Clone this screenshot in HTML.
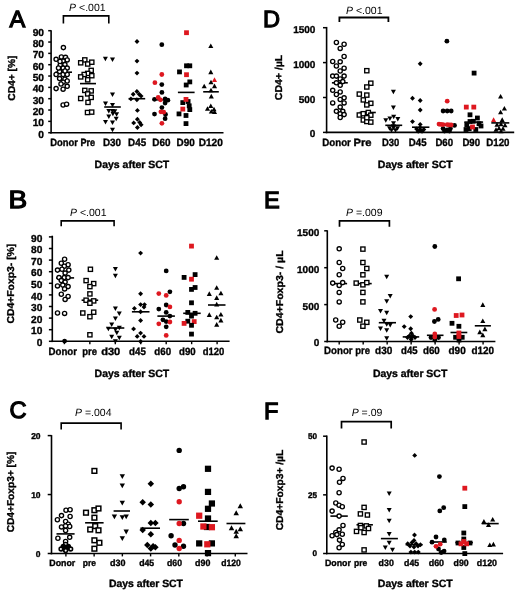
<!DOCTYPE html>
<html><head><meta charset="utf-8"><style>
html,body{margin:0;padding:0;background:#fff;}
body{width:520px;height:597px;overflow:hidden;}
svg{display:block;filter:blur(0.35px);}
text{font-family:"Liberation Sans",sans-serif;fill:#000;text-rendering:geometricPrecision;}
</style></head><body>
<svg width="520" height="597" viewBox="0 0 520 597">
<rect width="520" height="597" fill="#fff"/>
<text transform="translate(9.35,27.15) scale(1.0,1)" x="0.24" y="0" font-size="23.6" stroke="#000" stroke-width="1.25">A</text>
<text x="69.10" y="10.80" font-size="10.5" text-anchor="start"><tspan font-style="italic">P</tspan> &lt;.001</text>
<path d="M63.40 23.40V15.90H108.80V23.40" fill="none" stroke="#000" stroke-width="1.6"/>
<line x1="51.10" y1="30.30" x2="51.10" y2="133.50" stroke="#000" stroke-width="1.6"/>
<line x1="50.30" y1="132.70" x2="223.50" y2="132.70" stroke="#000" stroke-width="1.6"/>
<line x1="48.20" y1="132.70" x2="51.10" y2="132.70" stroke="#000" stroke-width="1.5"/>
<text x="44.00" y="137.70" font-size="10.2" font-weight="bold" stroke="#000" stroke-width="0.35" text-anchor="end">0</text>
<line x1="48.20" y1="121.37" x2="51.10" y2="121.37" stroke="#000" stroke-width="1.5"/>
<text x="44.00" y="126.37" font-size="10.2" font-weight="bold" stroke="#000" stroke-width="0.35" text-anchor="end">10</text>
<line x1="48.20" y1="110.03" x2="51.10" y2="110.03" stroke="#000" stroke-width="1.5"/>
<text x="44.00" y="115.03" font-size="10.2" font-weight="bold" stroke="#000" stroke-width="0.35" text-anchor="end">20</text>
<line x1="48.20" y1="98.70" x2="51.10" y2="98.70" stroke="#000" stroke-width="1.5"/>
<text x="44.00" y="103.70" font-size="10.2" font-weight="bold" stroke="#000" stroke-width="0.35" text-anchor="end">30</text>
<line x1="48.20" y1="87.37" x2="51.10" y2="87.37" stroke="#000" stroke-width="1.5"/>
<text x="44.00" y="92.37" font-size="10.2" font-weight="bold" stroke="#000" stroke-width="0.35" text-anchor="end">40</text>
<line x1="48.20" y1="76.03" x2="51.10" y2="76.03" stroke="#000" stroke-width="1.5"/>
<text x="44.00" y="81.03" font-size="10.2" font-weight="bold" stroke="#000" stroke-width="0.35" text-anchor="end">50</text>
<line x1="48.20" y1="64.70" x2="51.10" y2="64.70" stroke="#000" stroke-width="1.5"/>
<text x="44.00" y="69.70" font-size="10.2" font-weight="bold" stroke="#000" stroke-width="0.35" text-anchor="end">60</text>
<line x1="48.20" y1="53.37" x2="51.10" y2="53.37" stroke="#000" stroke-width="1.5"/>
<text x="44.00" y="58.37" font-size="10.2" font-weight="bold" stroke="#000" stroke-width="0.35" text-anchor="end">70</text>
<line x1="48.20" y1="42.04" x2="51.10" y2="42.04" stroke="#000" stroke-width="1.5"/>
<text x="44.00" y="47.04" font-size="10.2" font-weight="bold" stroke="#000" stroke-width="0.35" text-anchor="end">80</text>
<line x1="48.20" y1="30.70" x2="51.10" y2="30.70" stroke="#000" stroke-width="1.5"/>
<text x="44.00" y="35.70" font-size="10.2" font-weight="bold" stroke="#000" stroke-width="0.35" text-anchor="end">90</text>
<text transform="translate(14.70,78.10) rotate(-90)" x="0" y="0" font-size="10" font-weight="bold" stroke="#000" stroke-width="0.35" text-anchor="middle" textLength="45.2" lengthAdjust="spacingAndGlyphs">CD4+ [%]</text>
<text x="50.20" y="145.60" font-size="10.5" font-weight="bold" stroke="#000" stroke-width="0.35" text-anchor="start" textLength="27.7" lengthAdjust="spacingAndGlyphs">Donor</text>
<text x="80.50" y="145.60" font-size="10.5" font-weight="bold" stroke="#000" stroke-width="0.35" text-anchor="start" textLength="14.7" lengthAdjust="spacingAndGlyphs">Pre</text>
<text x="103.00" y="145.60" font-size="10.5" font-weight="bold" stroke="#000" stroke-width="0.35" text-anchor="start" textLength="18.1" lengthAdjust="spacingAndGlyphs">D30</text>
<text x="128.10" y="145.60" font-size="10.5" font-weight="bold" stroke="#000" stroke-width="0.35" text-anchor="start" textLength="18.0" lengthAdjust="spacingAndGlyphs">D45</text>
<text x="152.30" y="145.60" font-size="10.5" font-weight="bold" stroke="#000" stroke-width="0.35" text-anchor="start" textLength="18.2" lengthAdjust="spacingAndGlyphs">D60</text>
<text x="176.50" y="145.60" font-size="10.5" font-weight="bold" stroke="#000" stroke-width="0.35" text-anchor="start" textLength="18.2" lengthAdjust="spacingAndGlyphs">D90</text>
<text x="198.70" y="145.60" font-size="10.5" font-weight="bold" stroke="#000" stroke-width="0.35" text-anchor="start" textLength="24.1" lengthAdjust="spacingAndGlyphs">D120</text>
<text x="94.60" y="167.70" font-size="10.5" font-weight="bold" stroke="#000" stroke-width="0.35" text-anchor="start" textLength="74.7" lengthAdjust="spacingAndGlyphs">Days after SCT</text>
<line x1="55.40" y1="72.20" x2="72.00" y2="72.20" stroke="#000" stroke-width="1.6"/>
<line x1="80.00" y1="83.60" x2="96.00" y2="83.60" stroke="#000" stroke-width="1.6"/>
<line x1="104.20" y1="107.00" x2="120.80" y2="107.00" stroke="#000" stroke-width="1.6"/>
<line x1="128.60" y1="98.70" x2="145.20" y2="98.70" stroke="#000" stroke-width="1.6"/>
<line x1="152.60" y1="99.80" x2="169.70" y2="99.80" stroke="#000" stroke-width="1.6"/>
<line x1="177.90" y1="92.40" x2="194.60" y2="92.40" stroke="#000" stroke-width="1.6"/>
<line x1="203.20" y1="91.80" x2="218.80" y2="91.80" stroke="#000" stroke-width="1.6"/>
<text transform="translate(10.65,208.15) scale(1.12,1)" x="-1.88" y="0" font-size="25" stroke="#000" stroke-width="1.25">B</text>
<text x="70.00" y="216.20" font-size="10.5" text-anchor="start"><tspan font-style="italic">P</tspan> &lt;.001</text>
<path d="M61.20 226.20V220.90H114.10V226.20" fill="none" stroke="#000" stroke-width="1.6"/>
<line x1="52.30" y1="235.70" x2="52.30" y2="342.10" stroke="#000" stroke-width="1.6"/>
<line x1="51.50" y1="341.30" x2="229.60" y2="341.30" stroke="#000" stroke-width="1.6"/>
<line x1="48.90" y1="341.30" x2="52.30" y2="341.30" stroke="#000" stroke-width="1.5"/>
<text x="42.40" y="346.05" font-size="10.2" font-weight="bold" stroke="#000" stroke-width="0.35" text-anchor="end">0</text>
<line x1="48.90" y1="329.70" x2="52.30" y2="329.70" stroke="#000" stroke-width="1.5"/>
<text x="42.40" y="334.45" font-size="10.2" font-weight="bold" stroke="#000" stroke-width="0.35" text-anchor="end">10</text>
<line x1="48.90" y1="318.10" x2="52.30" y2="318.10" stroke="#000" stroke-width="1.5"/>
<text x="42.40" y="322.85" font-size="10.2" font-weight="bold" stroke="#000" stroke-width="0.35" text-anchor="end">20</text>
<line x1="48.90" y1="306.50" x2="52.30" y2="306.50" stroke="#000" stroke-width="1.5"/>
<text x="42.40" y="311.25" font-size="10.2" font-weight="bold" stroke="#000" stroke-width="0.35" text-anchor="end">30</text>
<line x1="48.90" y1="294.90" x2="52.30" y2="294.90" stroke="#000" stroke-width="1.5"/>
<text x="42.40" y="299.65" font-size="10.2" font-weight="bold" stroke="#000" stroke-width="0.35" text-anchor="end">40</text>
<line x1="48.90" y1="283.30" x2="52.30" y2="283.30" stroke="#000" stroke-width="1.5"/>
<text x="42.40" y="288.05" font-size="10.2" font-weight="bold" stroke="#000" stroke-width="0.35" text-anchor="end">50</text>
<line x1="48.90" y1="271.70" x2="52.30" y2="271.70" stroke="#000" stroke-width="1.5"/>
<text x="42.40" y="276.45" font-size="10.2" font-weight="bold" stroke="#000" stroke-width="0.35" text-anchor="end">60</text>
<line x1="48.90" y1="260.10" x2="52.30" y2="260.10" stroke="#000" stroke-width="1.5"/>
<text x="42.40" y="264.85" font-size="10.2" font-weight="bold" stroke="#000" stroke-width="0.35" text-anchor="end">70</text>
<line x1="48.90" y1="248.50" x2="52.30" y2="248.50" stroke="#000" stroke-width="1.5"/>
<text x="42.40" y="253.25" font-size="10.2" font-weight="bold" stroke="#000" stroke-width="0.35" text-anchor="end">80</text>
<line x1="48.90" y1="236.90" x2="52.30" y2="236.90" stroke="#000" stroke-width="1.5"/>
<text x="42.40" y="241.65" font-size="10.2" font-weight="bold" stroke="#000" stroke-width="0.35" text-anchor="end">90</text>
<line x1="64.40" y1="341.30" x2="64.40" y2="344.20" stroke="#000" stroke-width="1.4"/>
<line x1="89.85" y1="341.30" x2="89.85" y2="344.20" stroke="#000" stroke-width="1.4"/>
<line x1="115.30" y1="341.30" x2="115.30" y2="344.20" stroke="#000" stroke-width="1.4"/>
<line x1="140.75" y1="341.30" x2="140.75" y2="344.20" stroke="#000" stroke-width="1.4"/>
<line x1="166.20" y1="341.30" x2="166.20" y2="344.20" stroke="#000" stroke-width="1.4"/>
<line x1="191.65" y1="341.30" x2="191.65" y2="344.20" stroke="#000" stroke-width="1.4"/>
<line x1="217.10" y1="341.30" x2="217.10" y2="344.20" stroke="#000" stroke-width="1.4"/>
<text transform="translate(14.30,283.65) rotate(-90)" x="0" y="0" font-size="10" font-weight="bold" stroke="#000" stroke-width="0.35" text-anchor="middle" textLength="79.9" lengthAdjust="spacingAndGlyphs">CD4+Foxp3- [%]</text>
<text x="48.50" y="354.50" font-size="10.5" font-weight="bold" stroke="#000" stroke-width="0.35" text-anchor="start" textLength="28.5" lengthAdjust="spacingAndGlyphs">Donor</text>
<text x="82.20" y="354.50" font-size="10.5" font-weight="bold" stroke="#000" stroke-width="0.35" text-anchor="start" textLength="14.7" lengthAdjust="spacingAndGlyphs">pre</text>
<text x="101.20" y="354.50" font-size="10.5" font-weight="bold" stroke="#000" stroke-width="0.35" text-anchor="start" textLength="19.1" lengthAdjust="spacingAndGlyphs">d30</text>
<text x="129.00" y="354.50" font-size="10.5" font-weight="bold" stroke="#000" stroke-width="0.35" text-anchor="start" textLength="16.8" lengthAdjust="spacingAndGlyphs">d45</text>
<text x="154.30" y="354.50" font-size="10.5" font-weight="bold" stroke="#000" stroke-width="0.35" text-anchor="start" textLength="16.8" lengthAdjust="spacingAndGlyphs">d60</text>
<text x="179.10" y="354.50" font-size="10.5" font-weight="bold" stroke="#000" stroke-width="0.35" text-anchor="start" textLength="16.6" lengthAdjust="spacingAndGlyphs">d90</text>
<text x="202.80" y="354.50" font-size="10.5" font-weight="bold" stroke="#000" stroke-width="0.35" text-anchor="start" textLength="21.6" lengthAdjust="spacingAndGlyphs">d120</text>
<text x="94.60" y="377.20" font-size="10.5" font-weight="bold" stroke="#000" stroke-width="0.35" text-anchor="start" textLength="74.7" lengthAdjust="spacingAndGlyphs">Days after SCT</text>
<line x1="56.00" y1="277.90" x2="74.10" y2="277.90" stroke="#000" stroke-width="1.6"/>
<line x1="81.60" y1="300.20" x2="98.20" y2="300.20" stroke="#000" stroke-width="1.6"/>
<line x1="106.70" y1="328.00" x2="124.30" y2="328.00" stroke="#000" stroke-width="1.6"/>
<line x1="131.90" y1="311.80" x2="149.50" y2="311.80" stroke="#000" stroke-width="1.6"/>
<line x1="157.40" y1="316.10" x2="174.90" y2="316.10" stroke="#000" stroke-width="1.6"/>
<line x1="183.20" y1="313.30" x2="200.70" y2="313.30" stroke="#000" stroke-width="1.6"/>
<line x1="208.00" y1="305.00" x2="225.50" y2="305.00" stroke="#000" stroke-width="1.6"/>
<text transform="translate(10.55,418.25) scale(1.0,1)" x="-1.18" y="0" font-size="23.6" stroke="#000" stroke-width="1.25">C</text>
<text x="75.00" y="415.50" font-size="10.5" text-anchor="start"><tspan font-style="italic">P</tspan> =.004</text>
<path d="M61.20 429.60V423.10H121.10V429.60" fill="none" stroke="#000" stroke-width="1.6"/>
<line x1="51.50" y1="435.10" x2="51.50" y2="554.30" stroke="#000" stroke-width="1.6"/>
<line x1="50.70" y1="553.50" x2="247.50" y2="553.50" stroke="#000" stroke-width="1.6"/>
<line x1="47.70" y1="553.50" x2="51.50" y2="553.50" stroke="#000" stroke-width="1.5"/>
<text x="40.60" y="556.50" font-size="8.5" font-weight="bold" stroke="#000" stroke-width="0.35" text-anchor="end">0</text>
<line x1="47.70" y1="494.55" x2="51.50" y2="494.55" stroke="#000" stroke-width="1.5"/>
<text x="40.60" y="497.55" font-size="8.5" font-weight="bold" stroke="#000" stroke-width="0.35" text-anchor="end">10</text>
<line x1="47.70" y1="435.60" x2="51.50" y2="435.60" stroke="#000" stroke-width="1.5"/>
<text x="40.60" y="438.60" font-size="8.5" font-weight="bold" stroke="#000" stroke-width="0.35" text-anchor="end">20</text>
<line x1="65.90" y1="553.50" x2="65.90" y2="556.40" stroke="#000" stroke-width="1.4"/>
<line x1="94.13" y1="553.50" x2="94.13" y2="556.40" stroke="#000" stroke-width="1.4"/>
<line x1="122.36" y1="553.50" x2="122.36" y2="556.40" stroke="#000" stroke-width="1.4"/>
<line x1="150.59" y1="553.50" x2="150.59" y2="556.40" stroke="#000" stroke-width="1.4"/>
<line x1="178.82" y1="553.50" x2="178.82" y2="556.40" stroke="#000" stroke-width="1.4"/>
<line x1="207.05" y1="553.50" x2="207.05" y2="556.40" stroke="#000" stroke-width="1.4"/>
<line x1="235.28" y1="553.50" x2="235.28" y2="556.40" stroke="#000" stroke-width="1.4"/>
<text transform="translate(14.30,492.00) rotate(-90)" x="0" y="0" font-size="10" font-weight="bold" stroke="#000" stroke-width="0.35" text-anchor="middle" textLength="80.6" lengthAdjust="spacingAndGlyphs">CD4+Foxp3+ [%]</text>
<text x="49.30" y="565.90" font-size="9.2" font-weight="bold" stroke="#000" stroke-width="0.35" text-anchor="start" textLength="26.0" lengthAdjust="spacingAndGlyphs">Donor</text>
<text x="82.70" y="565.90" font-size="9.2" font-weight="bold" stroke="#000" stroke-width="0.35" text-anchor="start" textLength="13.3" lengthAdjust="spacingAndGlyphs">pre</text>
<text x="109.90" y="565.90" font-size="9.2" font-weight="bold" stroke="#000" stroke-width="0.35" text-anchor="start" textLength="15.5" lengthAdjust="spacingAndGlyphs">d30</text>
<text x="139.20" y="565.90" font-size="9.2" font-weight="bold" stroke="#000" stroke-width="0.35" text-anchor="start" textLength="15.0" lengthAdjust="spacingAndGlyphs">d45</text>
<text x="167.00" y="565.90" font-size="9.2" font-weight="bold" stroke="#000" stroke-width="0.35" text-anchor="start" textLength="15.0" lengthAdjust="spacingAndGlyphs">d60</text>
<text x="195.10" y="565.90" font-size="9.2" font-weight="bold" stroke="#000" stroke-width="0.35" text-anchor="start" textLength="15.3" lengthAdjust="spacingAndGlyphs">d90</text>
<text x="221.20" y="565.90" font-size="9.2" font-weight="bold" stroke="#000" stroke-width="0.35" text-anchor="start" textLength="19.6" lengthAdjust="spacingAndGlyphs">d120</text>
<text x="108.90" y="587.20" font-size="10.5" font-weight="bold" stroke="#000" stroke-width="0.35" text-anchor="start" textLength="74.1" lengthAdjust="spacingAndGlyphs">Days after SCT</text>
<line x1="56.50" y1="533.90" x2="74.60" y2="533.90" stroke="#000" stroke-width="1.6"/>
<line x1="85.10" y1="522.80" x2="103.60" y2="522.80" stroke="#000" stroke-width="1.6"/>
<line x1="113.60" y1="511.00" x2="130.00" y2="511.00" stroke="#000" stroke-width="1.6"/>
<line x1="140.40" y1="528.20" x2="160.00" y2="528.20" stroke="#000" stroke-width="1.6"/>
<line x1="169.20" y1="519.60" x2="188.80" y2="519.60" stroke="#000" stroke-width="1.6"/>
<line x1="198.00" y1="521.20" x2="217.70" y2="521.20" stroke="#000" stroke-width="1.6"/>
<line x1="226.50" y1="523.50" x2="245.40" y2="523.50" stroke="#000" stroke-width="1.6"/>
<text transform="translate(264.75,27.25) scale(1.0,1)" x="-1.89" y="0" font-size="23.6" stroke="#000" stroke-width="1.25">D</text>
<text x="346.00" y="13.80" font-size="10.5" text-anchor="start"><tspan font-style="italic">P</tspan> &lt;.001</text>
<path d="M339.40 22.10V17.50H388.40V22.10" fill="none" stroke="#000" stroke-width="1.8"/>
<line x1="326.60" y1="26.90" x2="326.60" y2="133.20" stroke="#000" stroke-width="1.6"/>
<line x1="325.80" y1="132.40" x2="514.20" y2="132.40" stroke="#000" stroke-width="1.6"/>
<line x1="323.00" y1="132.40" x2="326.60" y2="132.40" stroke="#000" stroke-width="1.5"/>
<text x="315.40" y="137.40" font-size="10" font-weight="bold" stroke="#000" stroke-width="0.35" text-anchor="end">0</text>
<line x1="323.00" y1="97.50" x2="326.60" y2="97.50" stroke="#000" stroke-width="1.5"/>
<text x="315.40" y="102.50" font-size="10" font-weight="bold" stroke="#000" stroke-width="0.35" text-anchor="end">500</text>
<line x1="323.00" y1="62.60" x2="326.60" y2="62.60" stroke="#000" stroke-width="1.5"/>
<text x="315.40" y="67.60" font-size="10" font-weight="bold" stroke="#000" stroke-width="0.35" text-anchor="end">1000</text>
<line x1="323.00" y1="27.70" x2="326.60" y2="27.70" stroke="#000" stroke-width="1.5"/>
<text x="315.40" y="32.70" font-size="10" font-weight="bold" stroke="#000" stroke-width="0.35" text-anchor="end">1500</text>
<text transform="translate(282.20,77.45) rotate(-90)" x="0" y="0" font-size="10" font-weight="bold" stroke="#000" stroke-width="0.35" text-anchor="middle" textLength="45.5" lengthAdjust="spacingAndGlyphs">CD4+ /µL</text>
<text x="322.30" y="145.60" font-size="10.5" font-weight="bold" stroke="#000" stroke-width="0.35" text-anchor="start" textLength="28.6" lengthAdjust="spacingAndGlyphs">Donor</text>
<text x="353.50" y="145.60" font-size="10.5" font-weight="bold" stroke="#000" stroke-width="0.35" text-anchor="start" textLength="18.1" lengthAdjust="spacingAndGlyphs">Pre</text>
<text x="382.00" y="145.60" font-size="10.5" font-weight="bold" stroke="#000" stroke-width="0.35" text-anchor="start" textLength="17.3" lengthAdjust="spacingAndGlyphs">D30</text>
<text x="408.80" y="145.60" font-size="10.5" font-weight="bold" stroke="#000" stroke-width="0.35" text-anchor="start" textLength="17.7" lengthAdjust="spacingAndGlyphs">D45</text>
<text x="435.40" y="145.60" font-size="10.5" font-weight="bold" stroke="#000" stroke-width="0.35" text-anchor="start" textLength="17.7" lengthAdjust="spacingAndGlyphs">D60</text>
<text x="462.40" y="145.60" font-size="10.5" font-weight="bold" stroke="#000" stroke-width="0.35" text-anchor="start" textLength="17.7" lengthAdjust="spacingAndGlyphs">D90</text>
<text x="486.30" y="145.60" font-size="10.5" font-weight="bold" stroke="#000" stroke-width="0.35" text-anchor="start" textLength="23.2" lengthAdjust="spacingAndGlyphs">D120</text>
<text x="377.80" y="167.70" font-size="10.5" font-weight="bold" stroke="#000" stroke-width="0.35" text-anchor="start" textLength="74.9" lengthAdjust="spacingAndGlyphs">Days after SCT</text>
<line x1="331.90" y1="82.80" x2="347.80" y2="82.80" stroke="#000" stroke-width="1.6"/>
<line x1="359.50" y1="112.50" x2="375.80" y2="112.50" stroke="#000" stroke-width="1.6"/>
<line x1="385.30" y1="125.30" x2="402.20" y2="125.30" stroke="#000" stroke-width="1.6"/>
<line x1="412.00" y1="127.20" x2="429.40" y2="127.20" stroke="#000" stroke-width="1.6"/>
<line x1="437.70" y1="125.30" x2="456.10" y2="125.30" stroke="#000" stroke-width="1.6"/>
<line x1="464.30" y1="122.10" x2="483.10" y2="122.10" stroke="#000" stroke-width="1.6"/>
<line x1="491.30" y1="122.90" x2="509.30" y2="122.90" stroke="#000" stroke-width="1.6"/>
<text transform="translate(265.85,208.25) scale(1.0,1)" x="-1.89" y="0" font-size="23.6" stroke="#000" stroke-width="1.25">E</text>
<text x="346.00" y="215.60" font-size="10.5" text-anchor="start"><tspan font-style="italic">P</tspan> =.009</text>
<path d="M339.50 226.80V220.80H389.40V226.80" fill="none" stroke="#000" stroke-width="1.7"/>
<line x1="327.30" y1="230.30" x2="327.30" y2="342.30" stroke="#000" stroke-width="1.6"/>
<line x1="326.50" y1="341.50" x2="495.40" y2="341.50" stroke="#000" stroke-width="1.6"/>
<line x1="324.20" y1="341.50" x2="327.30" y2="341.50" stroke="#000" stroke-width="1.5"/>
<text x="319.30" y="346.40" font-size="10" font-weight="bold" stroke="#000" stroke-width="0.35" text-anchor="end">0</text>
<line x1="324.20" y1="304.60" x2="327.30" y2="304.60" stroke="#000" stroke-width="1.5"/>
<text x="319.30" y="309.50" font-size="10" font-weight="bold" stroke="#000" stroke-width="0.35" text-anchor="end">500</text>
<line x1="324.20" y1="267.70" x2="327.30" y2="267.70" stroke="#000" stroke-width="1.5"/>
<text x="319.30" y="272.60" font-size="10" font-weight="bold" stroke="#000" stroke-width="0.35" text-anchor="end">1000</text>
<line x1="324.20" y1="230.80" x2="327.30" y2="230.80" stroke="#000" stroke-width="1.5"/>
<text x="319.30" y="235.70" font-size="10" font-weight="bold" stroke="#000" stroke-width="0.35" text-anchor="end">1500</text>
<line x1="339.20" y1="341.50" x2="339.20" y2="344.40" stroke="#000" stroke-width="1.4"/>
<line x1="363.18" y1="341.50" x2="363.18" y2="344.40" stroke="#000" stroke-width="1.4"/>
<line x1="387.16" y1="341.50" x2="387.16" y2="344.40" stroke="#000" stroke-width="1.4"/>
<line x1="411.14" y1="341.50" x2="411.14" y2="344.40" stroke="#000" stroke-width="1.4"/>
<line x1="435.12" y1="341.50" x2="435.12" y2="344.40" stroke="#000" stroke-width="1.4"/>
<line x1="459.10" y1="341.50" x2="459.10" y2="344.40" stroke="#000" stroke-width="1.4"/>
<line x1="483.08" y1="341.50" x2="483.08" y2="344.40" stroke="#000" stroke-width="1.4"/>
<text transform="translate(283.30,292.00) rotate(-90)" x="0" y="0" font-size="10" font-weight="bold" stroke="#000" stroke-width="0.35" text-anchor="middle" textLength="83.2" lengthAdjust="spacingAndGlyphs">CD4+Foxp3- / µL</text>
<text x="324.10" y="354.20" font-size="10.5" font-weight="bold" stroke="#000" stroke-width="0.35" text-anchor="start" textLength="28.5" lengthAdjust="spacingAndGlyphs">Donor</text>
<text x="355.20" y="354.20" font-size="10.5" font-weight="bold" stroke="#000" stroke-width="0.35" text-anchor="start" textLength="14.7" lengthAdjust="spacingAndGlyphs">pre</text>
<text x="375.10" y="354.20" font-size="10.5" font-weight="bold" stroke="#000" stroke-width="0.35" text-anchor="start" textLength="17.3" lengthAdjust="spacingAndGlyphs">d30</text>
<text x="401.10" y="354.20" font-size="10.5" font-weight="bold" stroke="#000" stroke-width="0.35" text-anchor="start" textLength="16.5" lengthAdjust="spacingAndGlyphs">d45</text>
<text x="422.90" y="354.20" font-size="10.5" font-weight="bold" stroke="#000" stroke-width="0.35" text-anchor="start" textLength="16.9" lengthAdjust="spacingAndGlyphs">d60</text>
<text x="448.50" y="354.20" font-size="10.5" font-weight="bold" stroke="#000" stroke-width="0.35" text-anchor="start" textLength="17.2" lengthAdjust="spacingAndGlyphs">d90</text>
<text x="471.40" y="354.20" font-size="10.5" font-weight="bold" stroke="#000" stroke-width="0.35" text-anchor="start" textLength="22.6" lengthAdjust="spacingAndGlyphs">d120</text>
<text x="372.90" y="377.40" font-size="10.5" font-weight="bold" stroke="#000" stroke-width="0.35" text-anchor="start" textLength="74.4" lengthAdjust="spacingAndGlyphs">Days after SCT</text>
<line x1="331.30" y1="283.60" x2="347.10" y2="283.60" stroke="#000" stroke-width="1.6"/>
<line x1="354.10" y1="283.60" x2="371.70" y2="283.60" stroke="#000" stroke-width="1.6"/>
<line x1="378.80" y1="322.70" x2="396.00" y2="322.70" stroke="#000" stroke-width="1.6"/>
<line x1="402.70" y1="336.90" x2="419.20" y2="336.90" stroke="#000" stroke-width="1.6"/>
<line x1="426.90" y1="335.30" x2="443.50" y2="335.30" stroke="#000" stroke-width="1.6"/>
<line x1="450.50" y1="332.50" x2="467.30" y2="332.50" stroke="#000" stroke-width="1.6"/>
<line x1="474.80" y1="325.80" x2="490.90" y2="325.80" stroke="#000" stroke-width="1.6"/>
<text transform="translate(265.85,419.05) scale(1.0,1)" x="-1.89" y="0" font-size="23.6" stroke="#000" stroke-width="1.25">F</text>
<text x="351.70" y="415.90" font-size="10.5" text-anchor="start"><tspan font-style="italic">P</tspan> =.09</text>
<path d="M341.50 428.60V421.60H391.20V428.60" fill="none" stroke="#000" stroke-width="1.7"/>
<line x1="326.80" y1="435.40" x2="326.80" y2="554.30" stroke="#000" stroke-width="1.6"/>
<line x1="326.00" y1="553.50" x2="503.10" y2="553.50" stroke="#000" stroke-width="1.6"/>
<line x1="323.10" y1="553.50" x2="326.80" y2="553.50" stroke="#000" stroke-width="1.5"/>
<text x="317.00" y="556.40" font-size="8.2" font-weight="bold" stroke="#000" stroke-width="0.35" text-anchor="end">0</text>
<line x1="323.10" y1="494.85" x2="326.80" y2="494.85" stroke="#000" stroke-width="1.5"/>
<text x="317.00" y="497.75" font-size="8.2" font-weight="bold" stroke="#000" stroke-width="0.35" text-anchor="end">25</text>
<line x1="323.10" y1="436.20" x2="326.80" y2="436.20" stroke="#000" stroke-width="1.5"/>
<text x="317.00" y="439.10" font-size="8.2" font-weight="bold" stroke="#000" stroke-width="0.35" text-anchor="end">50</text>
<text transform="translate(282.50,490.00) rotate(-90)" x="0" y="0" font-size="10" font-weight="bold" stroke="#000" stroke-width="0.35" text-anchor="middle" textLength="80.6" lengthAdjust="spacingAndGlyphs">CD4+Foxp3+ /µL</text>
<text x="324.90" y="565.60" font-size="9.2" font-weight="bold" stroke="#000" stroke-width="0.35" text-anchor="start" textLength="26.0" lengthAdjust="spacingAndGlyphs">Donor</text>
<text x="354.00" y="565.60" font-size="9.2" font-weight="bold" stroke="#000" stroke-width="0.35" text-anchor="start" textLength="13.3" lengthAdjust="spacingAndGlyphs">pre</text>
<text x="378.60" y="565.60" font-size="9.2" font-weight="bold" stroke="#000" stroke-width="0.35" text-anchor="start" textLength="15.2" lengthAdjust="spacingAndGlyphs">d30</text>
<text x="404.10" y="565.60" font-size="9.2" font-weight="bold" stroke="#000" stroke-width="0.35" text-anchor="start" textLength="15.1" lengthAdjust="spacingAndGlyphs">d45</text>
<text x="428.70" y="565.60" font-size="9.2" font-weight="bold" stroke="#000" stroke-width="0.35" text-anchor="start" textLength="15.4" lengthAdjust="spacingAndGlyphs">d60</text>
<text x="453.60" y="565.60" font-size="9.2" font-weight="bold" stroke="#000" stroke-width="0.35" text-anchor="start" textLength="15.1" lengthAdjust="spacingAndGlyphs">d90</text>
<text x="476.80" y="565.60" font-size="9.2" font-weight="bold" stroke="#000" stroke-width="0.35" text-anchor="start" textLength="20.2" lengthAdjust="spacingAndGlyphs">d120</text>
<text x="377.80" y="587.20" font-size="10.5" font-weight="bold" stroke="#000" stroke-width="0.35" text-anchor="start" textLength="74.9" lengthAdjust="spacingAndGlyphs">Days after SCT</text>
<line x1="330.40" y1="516.10" x2="347.80" y2="516.10" stroke="#000" stroke-width="1.6"/>
<line x1="356.50" y1="524.80" x2="372.90" y2="524.80" stroke="#000" stroke-width="1.6"/>
<line x1="380.90" y1="538.60" x2="397.90" y2="538.60" stroke="#000" stroke-width="1.6"/>
<line x1="405.60" y1="544.70" x2="422.50" y2="544.70" stroke="#000" stroke-width="1.6"/>
<line x1="430.50" y1="542.00" x2="446.80" y2="542.00" stroke="#000" stroke-width="1.6"/>
<line x1="455.30" y1="542.60" x2="472.90" y2="542.60" stroke="#000" stroke-width="1.6"/>
<line x1="481.70" y1="523.60" x2="498.70" y2="523.60" stroke="#000" stroke-width="1.6"/>
<circle cx="63.40" cy="47.60" r="2.10" fill="#fff" stroke="#000" stroke-width="1.35"/>
<circle cx="56.10" cy="59.30" r="2.10" fill="#fff" stroke="#000" stroke-width="1.35"/>
<circle cx="61.40" cy="57.00" r="2.10" fill="#fff" stroke="#000" stroke-width="1.35"/>
<circle cx="65.50" cy="57.30" r="2.10" fill="#fff" stroke="#000" stroke-width="1.35"/>
<circle cx="67.20" cy="59.90" r="2.10" fill="#fff" stroke="#000" stroke-width="1.35"/>
<circle cx="63.10" cy="61.10" r="2.10" fill="#fff" stroke="#000" stroke-width="1.35"/>
<circle cx="60.20" cy="65.20" r="2.10" fill="#fff" stroke="#000" stroke-width="1.35"/>
<circle cx="64.90" cy="64.60" r="2.10" fill="#fff" stroke="#000" stroke-width="1.35"/>
<circle cx="63.10" cy="68.10" r="2.10" fill="#fff" stroke="#000" stroke-width="1.35"/>
<circle cx="67.20" cy="68.10" r="2.10" fill="#fff" stroke="#000" stroke-width="1.35"/>
<circle cx="59.60" cy="71.60" r="2.10" fill="#fff" stroke="#000" stroke-width="1.35"/>
<circle cx="56.10" cy="74.50" r="2.10" fill="#fff" stroke="#000" stroke-width="1.35"/>
<circle cx="63.10" cy="74.50" r="2.10" fill="#fff" stroke="#000" stroke-width="1.35"/>
<circle cx="67.20" cy="74.50" r="2.10" fill="#fff" stroke="#000" stroke-width="1.35"/>
<circle cx="59.60" cy="78.60" r="2.10" fill="#fff" stroke="#000" stroke-width="1.35"/>
<circle cx="64.90" cy="79.20" r="2.10" fill="#fff" stroke="#000" stroke-width="1.35"/>
<circle cx="67.20" cy="81.00" r="2.10" fill="#fff" stroke="#000" stroke-width="1.35"/>
<circle cx="63.10" cy="82.20" r="2.10" fill="#fff" stroke="#000" stroke-width="1.35"/>
<circle cx="67.20" cy="86.30" r="2.10" fill="#fff" stroke="#000" stroke-width="1.35"/>
<circle cx="56.10" cy="88.60" r="2.10" fill="#fff" stroke="#000" stroke-width="1.35"/>
<circle cx="63.10" cy="89.20" r="2.10" fill="#fff" stroke="#000" stroke-width="1.35"/>
<circle cx="63.10" cy="105.00" r="2.10" fill="#fff" stroke="#000" stroke-width="1.35"/>
<circle cx="66.60" cy="104.20" r="2.10" fill="#fff" stroke="#000" stroke-width="1.35"/>
<circle cx="60.00" cy="61.50" r="2.10" fill="#fff" stroke="#000" stroke-width="1.35"/>
<circle cx="58.50" cy="68.00" r="2.10" fill="#fff" stroke="#000" stroke-width="1.35"/>
<circle cx="61.00" cy="84.00" r="2.10" fill="#fff" stroke="#000" stroke-width="1.35"/>
<circle cx="65.00" cy="71.00" r="2.10" fill="#fff" stroke="#000" stroke-width="1.35"/>
<rect x="82.70" y="57.80" width="4.20" height="4.20" fill="#fff" stroke="#000" stroke-width="1.35"/>
<rect x="78.60" y="60.70" width="4.20" height="4.20" fill="#fff" stroke="#000" stroke-width="1.35"/>
<rect x="85.60" y="61.90" width="4.20" height="4.20" fill="#fff" stroke="#000" stroke-width="1.35"/>
<rect x="89.70" y="60.10" width="4.20" height="4.20" fill="#fff" stroke="#000" stroke-width="1.35"/>
<rect x="89.10" y="68.30" width="4.20" height="4.20" fill="#fff" stroke="#000" stroke-width="1.35"/>
<rect x="85.60" y="71.30" width="4.20" height="4.20" fill="#fff" stroke="#000" stroke-width="1.35"/>
<rect x="82.10" y="72.40" width="4.20" height="4.20" fill="#fff" stroke="#000" stroke-width="1.35"/>
<rect x="78.60" y="74.80" width="4.20" height="4.20" fill="#fff" stroke="#000" stroke-width="1.35"/>
<rect x="89.70" y="73.60" width="4.20" height="4.20" fill="#fff" stroke="#000" stroke-width="1.35"/>
<rect x="85.60" y="77.70" width="4.20" height="4.20" fill="#fff" stroke="#000" stroke-width="1.35"/>
<rect x="82.70" y="88.30" width="4.20" height="4.20" fill="#fff" stroke="#000" stroke-width="1.35"/>
<rect x="89.10" y="88.80" width="4.20" height="4.20" fill="#fff" stroke="#000" stroke-width="1.35"/>
<rect x="85.60" y="91.80" width="4.20" height="4.20" fill="#fff" stroke="#000" stroke-width="1.35"/>
<rect x="89.10" y="95.30" width="4.20" height="4.20" fill="#fff" stroke="#000" stroke-width="1.35"/>
<rect x="78.60" y="96.40" width="4.20" height="4.20" fill="#fff" stroke="#000" stroke-width="1.35"/>
<rect x="85.90" y="100.30" width="4.20" height="4.20" fill="#fff" stroke="#000" stroke-width="1.35"/>
<rect x="85.40" y="110.40" width="4.20" height="4.20" fill="#fff" stroke="#000" stroke-width="1.35"/>
<rect x="89.60" y="110.00" width="4.20" height="4.20" fill="#fff" stroke="#000" stroke-width="1.35"/>
<path d="M102.90 56.65H107.90L105.40 61.15Z" fill="#000"/>
<path d="M110.00 57.55H115.00L112.50 62.05Z" fill="#000"/>
<path d="M110.00 92.55H115.00L112.50 97.05Z" fill="#000"/>
<path d="M103.00 101.55H108.00L105.50 106.05Z" fill="#000"/>
<path d="M110.00 102.95H115.00L112.50 107.45Z" fill="#000"/>
<path d="M106.30 108.95H111.30L108.80 113.45Z" fill="#000"/>
<path d="M110.00 108.95H115.00L112.50 113.45Z" fill="#000"/>
<path d="M112.30 109.35H117.30L114.80 113.85Z" fill="#000"/>
<path d="M110.40 111.75H115.40L112.90 116.25Z" fill="#000"/>
<path d="M114.10 112.15H119.10L116.60 116.65Z" fill="#000"/>
<path d="M106.30 114.45H111.30L108.80 118.95Z" fill="#000"/>
<path d="M113.70 116.75H118.70L116.20 121.25Z" fill="#000"/>
<path d="M103.00 119.95H108.00L105.50 124.45Z" fill="#000"/>
<path d="M110.00 120.45H115.00L112.50 124.95Z" fill="#000"/>
<path d="M110.00 127.85H115.00L112.50 132.35Z" fill="#000"/>
<path d="M137.00 39.05L139.45 41.50L137.00 43.95L134.55 41.50Z" fill="#000"/>
<path d="M137.00 58.65L139.45 61.10L137.00 63.55L134.55 61.10Z" fill="#000"/>
<path d="M137.00 70.65L139.45 73.10L137.00 75.55L134.55 73.10Z" fill="#000"/>
<path d="M136.90 89.05L139.35 91.50L136.90 93.95L134.45 91.50Z" fill="#000"/>
<path d="M133.20 91.75L135.65 94.20L133.20 96.65L130.75 94.20Z" fill="#000"/>
<path d="M139.20 91.75L141.65 94.20L139.20 96.65L136.75 94.20Z" fill="#000"/>
<path d="M141.10 93.65L143.55 96.10L141.10 98.55L138.65 96.10Z" fill="#000"/>
<path d="M130.90 96.45L133.35 98.90L130.90 101.35L128.45 98.90Z" fill="#000"/>
<path d="M136.90 97.35L139.35 99.80L136.90 102.25L134.45 99.80Z" fill="#000"/>
<path d="M137.40 107.95L139.85 110.40L137.40 112.85L134.95 110.40Z" fill="#000"/>
<path d="M137.40 116.75L139.85 119.20L137.40 121.65L134.95 119.20Z" fill="#000"/>
<path d="M133.70 120.45L136.15 122.90L133.70 125.35L131.25 122.90Z" fill="#000"/>
<path d="M139.70 119.95L142.15 122.40L139.70 124.85L137.25 122.40Z" fill="#000"/>
<path d="M141.10 122.25L143.55 124.70L141.10 127.15L138.65 124.70Z" fill="#000"/>
<path d="M137.40 125.05L139.85 127.50L137.40 129.95L134.95 127.50Z" fill="#000"/>
<circle cx="161.80" cy="44.70" r="2.40" fill="#000"/>
<circle cx="161.80" cy="74.50" r="2.40" fill="#de1820"/>
<circle cx="154.90" cy="82.70" r="2.40" fill="#de1820"/>
<circle cx="161.80" cy="84.60" r="2.40" fill="#000"/>
<circle cx="161.90" cy="92.40" r="2.40" fill="#000"/>
<circle cx="154.50" cy="99.30" r="2.40" fill="#000"/>
<circle cx="165.10" cy="98.90" r="2.40" fill="#000"/>
<circle cx="167.90" cy="100.20" r="2.40" fill="#000"/>
<circle cx="165.10" cy="103.00" r="2.40" fill="#000"/>
<circle cx="158.20" cy="97.50" r="2.40" fill="#de1820"/>
<circle cx="160.50" cy="99.80" r="2.40" fill="#de1820"/>
<circle cx="161.90" cy="107.60" r="2.40" fill="#000"/>
<circle cx="154.50" cy="114.10" r="2.40" fill="#000"/>
<circle cx="165.50" cy="114.50" r="2.40" fill="#000"/>
<circle cx="160.90" cy="111.80" r="2.40" fill="#de1820"/>
<circle cx="163.70" cy="112.20" r="2.40" fill="#de1820"/>
<circle cx="165.10" cy="118.70" r="2.40" fill="#000"/>
<circle cx="161.90" cy="123.30" r="2.40" fill="#de1820"/>
<rect x="184.10" y="30.30" width="4.80" height="4.80" fill="#de1820"/>
<rect x="184.10" y="63.40" width="4.80" height="4.80" fill="#000"/>
<rect x="187.40" y="63.40" width="4.80" height="4.80" fill="#000"/>
<rect x="177.10" y="69.50" width="4.80" height="4.80" fill="#000"/>
<rect x="184.10" y="72.30" width="4.80" height="4.80" fill="#de1820"/>
<rect x="187.40" y="79.50" width="4.80" height="4.80" fill="#000"/>
<rect x="183.80" y="82.60" width="4.80" height="4.80" fill="#000"/>
<rect x="180.40" y="100.20" width="4.80" height="4.80" fill="#000"/>
<rect x="185.70" y="99.10" width="4.80" height="4.80" fill="#000"/>
<rect x="183.60" y="97.00" width="4.80" height="4.80" fill="#de1820"/>
<rect x="186.80" y="103.40" width="4.80" height="4.80" fill="#000"/>
<rect x="187.40" y="107.20" width="4.80" height="4.80" fill="#000"/>
<rect x="180.40" y="106.70" width="4.80" height="4.80" fill="#de1820"/>
<rect x="176.60" y="111.50" width="4.80" height="4.80" fill="#000"/>
<rect x="183.60" y="113.10" width="4.80" height="4.80" fill="#000"/>
<rect x="183.60" y="121.20" width="4.80" height="4.80" fill="#000"/>
<path d="M208.25 48.10H213.35L210.80 43.50Z" fill="#000"/>
<path d="M208.25 74.20H213.35L210.80 69.60Z" fill="#000"/>
<path d="M208.45 84.30H213.55L211.00 79.70Z" fill="#000"/>
<path d="M211.95 81.90H217.05L214.50 77.30Z" fill="#de1820"/>
<path d="M201.65 88.30H206.75L204.20 83.70Z" fill="#000"/>
<path d="M211.95 88.20H217.05L214.50 83.60Z" fill="#000"/>
<path d="M208.45 92.30H213.55L211.00 87.70Z" fill="#000"/>
<path d="M208.75 98.40H213.85L211.30 93.80Z" fill="#000"/>
<path d="M208.25 108.10H213.35L210.80 103.50Z" fill="#000"/>
<path d="M204.95 110.80H210.05L207.50 106.20Z" fill="#000"/>
<path d="M211.45 111.30H216.55L214.00 106.70Z" fill="#000"/>
<path d="M208.75 113.50H213.85L211.30 108.90Z" fill="#000"/>
<path d="M211.95 114.10H217.05L214.50 109.50Z" fill="#000"/>
<circle cx="64.60" cy="259.20" r="2.10" fill="#fff" stroke="#000" stroke-width="1.35"/>
<circle cx="61.30" cy="263.30" r="2.10" fill="#fff" stroke="#000" stroke-width="1.35"/>
<circle cx="68.10" cy="264.80" r="2.10" fill="#fff" stroke="#000" stroke-width="1.35"/>
<circle cx="64.30" cy="266.30" r="2.10" fill="#fff" stroke="#000" stroke-width="1.35"/>
<circle cx="57.50" cy="270.10" r="2.10" fill="#fff" stroke="#000" stroke-width="1.35"/>
<circle cx="62.00" cy="269.30" r="2.10" fill="#fff" stroke="#000" stroke-width="1.35"/>
<circle cx="68.80" cy="270.10" r="2.10" fill="#fff" stroke="#000" stroke-width="1.35"/>
<circle cx="65.10" cy="273.10" r="2.10" fill="#fff" stroke="#000" stroke-width="1.35"/>
<circle cx="59.00" cy="277.60" r="2.10" fill="#fff" stroke="#000" stroke-width="1.35"/>
<circle cx="64.30" cy="277.60" r="2.10" fill="#fff" stroke="#000" stroke-width="1.35"/>
<circle cx="68.10" cy="277.60" r="2.10" fill="#fff" stroke="#000" stroke-width="1.35"/>
<circle cx="61.30" cy="280.60" r="2.10" fill="#fff" stroke="#000" stroke-width="1.35"/>
<circle cx="65.10" cy="282.10" r="2.10" fill="#fff" stroke="#000" stroke-width="1.35"/>
<circle cx="57.50" cy="285.90" r="2.10" fill="#fff" stroke="#000" stroke-width="1.35"/>
<circle cx="62.80" cy="285.10" r="2.10" fill="#fff" stroke="#000" stroke-width="1.35"/>
<circle cx="68.10" cy="286.60" r="2.10" fill="#fff" stroke="#000" stroke-width="1.35"/>
<circle cx="64.60" cy="288.90" r="2.10" fill="#fff" stroke="#000" stroke-width="1.35"/>
<circle cx="61.30" cy="294.20" r="2.10" fill="#fff" stroke="#000" stroke-width="1.35"/>
<circle cx="68.10" cy="296.40" r="2.10" fill="#fff" stroke="#000" stroke-width="1.35"/>
<circle cx="65.10" cy="299.40" r="2.10" fill="#fff" stroke="#000" stroke-width="1.35"/>
<circle cx="57.50" cy="313.00" r="2.10" fill="#fff" stroke="#000" stroke-width="1.35"/>
<circle cx="64.60" cy="313.40" r="2.10" fill="#fff" stroke="#000" stroke-width="1.35"/>
<circle cx="64.60" cy="341.10" r="2.40" fill="#000"/>
<rect x="88.30" y="267.20" width="4.20" height="4.20" fill="#fff" stroke="#000" stroke-width="1.35"/>
<rect x="84.00" y="278.50" width="4.20" height="4.20" fill="#fff" stroke="#000" stroke-width="1.35"/>
<rect x="91.60" y="281.50" width="4.20" height="4.20" fill="#fff" stroke="#000" stroke-width="1.35"/>
<rect x="87.80" y="284.50" width="4.20" height="4.20" fill="#fff" stroke="#000" stroke-width="1.35"/>
<rect x="87.80" y="291.80" width="4.20" height="4.20" fill="#fff" stroke="#000" stroke-width="1.35"/>
<rect x="84.00" y="298.10" width="4.20" height="4.20" fill="#fff" stroke="#000" stroke-width="1.35"/>
<rect x="91.60" y="298.80" width="4.20" height="4.20" fill="#fff" stroke="#000" stroke-width="1.35"/>
<rect x="87.80" y="301.10" width="4.20" height="4.20" fill="#fff" stroke="#000" stroke-width="1.35"/>
<rect x="80.70" y="310.90" width="4.20" height="4.20" fill="#fff" stroke="#000" stroke-width="1.35"/>
<rect x="91.60" y="310.10" width="4.20" height="4.20" fill="#fff" stroke="#000" stroke-width="1.35"/>
<rect x="87.80" y="314.60" width="4.20" height="4.20" fill="#fff" stroke="#000" stroke-width="1.35"/>
<rect x="87.80" y="332.70" width="4.20" height="4.20" fill="#fff" stroke="#000" stroke-width="1.35"/>
<path d="M112.90 267.05H117.90L115.40 271.55Z" fill="#000"/>
<path d="M112.90 273.75H117.90L115.40 278.25Z" fill="#000"/>
<path d="M112.90 306.55H117.90L115.40 311.05Z" fill="#000"/>
<path d="M116.80 311.55H121.80L119.30 316.05Z" fill="#000"/>
<path d="M112.90 316.55H117.90L115.40 321.05Z" fill="#000"/>
<path d="M109.20 322.45H114.20L111.70 326.95Z" fill="#000"/>
<path d="M105.90 326.65H110.90L108.40 331.15Z" fill="#000"/>
<path d="M112.90 327.45H117.90L115.40 331.95Z" fill="#000"/>
<path d="M116.80 325.75H121.80L119.30 330.25Z" fill="#000"/>
<path d="M114.30 330.85H119.30L116.80 335.35Z" fill="#000"/>
<path d="M109.20 334.75H114.20L111.70 339.25Z" fill="#000"/>
<path d="M116.80 335.85H121.80L119.30 340.35Z" fill="#000"/>
<path d="M112.90 339.25H117.90L115.40 343.75Z" fill="#000"/>
<path d="M140.60 250.65L143.05 253.10L140.60 255.55L138.15 253.10Z" fill="#000"/>
<path d="M140.60 291.25L143.05 293.70L140.60 296.15L138.15 293.70Z" fill="#000"/>
<path d="M140.60 302.15L143.05 304.60L140.60 307.05L138.15 304.60Z" fill="#000"/>
<path d="M144.50 302.15L146.95 304.60L144.50 307.05L142.05 304.60Z" fill="#000"/>
<path d="M144.00 304.65L146.45 307.10L144.00 309.55L141.55 307.10Z" fill="#000"/>
<path d="M134.40 305.95L136.85 308.40L134.40 310.85L131.95 308.40Z" fill="#000"/>
<path d="M140.60 309.35L143.05 311.80L140.60 314.25L138.15 311.80Z" fill="#000"/>
<path d="M140.60 318.05L143.05 320.50L140.60 322.95L138.15 320.50Z" fill="#000"/>
<path d="M133.60 326.45L136.05 328.90L133.60 331.35L131.15 328.90Z" fill="#000"/>
<path d="M140.60 330.65L143.05 333.10L140.60 335.55L138.15 333.10Z" fill="#000"/>
<path d="M137.20 333.95L139.65 336.40L137.20 338.85L134.75 336.40Z" fill="#000"/>
<path d="M144.00 333.95L146.45 336.40L144.00 338.85L141.55 336.40Z" fill="#000"/>
<path d="M140.60 339.05L143.05 341.50L140.60 343.95L138.15 341.50Z" fill="#000"/>
<circle cx="166.20" cy="270.90" r="2.40" fill="#000"/>
<circle cx="158.80" cy="293.60" r="2.40" fill="#de1820"/>
<circle cx="169.90" cy="291.80" r="2.40" fill="#000"/>
<circle cx="166.20" cy="295.40" r="2.40" fill="#de1820"/>
<circle cx="166.20" cy="305.00" r="2.40" fill="#000"/>
<circle cx="169.90" cy="306.90" r="2.40" fill="#de1820"/>
<circle cx="158.80" cy="309.10" r="2.40" fill="#000"/>
<circle cx="166.20" cy="312.40" r="2.40" fill="#000"/>
<circle cx="169.90" cy="316.10" r="2.40" fill="#000"/>
<circle cx="162.90" cy="319.80" r="2.40" fill="#000"/>
<circle cx="166.20" cy="321.60" r="2.40" fill="#000"/>
<circle cx="169.90" cy="322.00" r="2.40" fill="#de1820"/>
<circle cx="158.80" cy="323.80" r="2.40" fill="#de1820"/>
<circle cx="166.20" cy="326.80" r="2.40" fill="#000"/>
<circle cx="166.20" cy="335.40" r="2.40" fill="#de1820"/>
<rect x="189.10" y="243.70" width="4.80" height="4.80" fill="#de1820"/>
<rect x="181.70" y="275.00" width="4.80" height="4.80" fill="#000"/>
<rect x="192.70" y="272.20" width="4.80" height="4.80" fill="#000"/>
<rect x="189.10" y="276.80" width="4.80" height="4.80" fill="#de1820"/>
<rect x="192.70" y="285.10" width="4.80" height="4.80" fill="#000"/>
<rect x="189.10" y="287.00" width="4.80" height="4.80" fill="#000"/>
<rect x="189.10" y="300.40" width="4.80" height="4.80" fill="#000"/>
<rect x="185.40" y="310.00" width="4.80" height="4.80" fill="#000"/>
<rect x="192.70" y="310.90" width="4.80" height="4.80" fill="#000"/>
<rect x="189.10" y="313.70" width="4.80" height="4.80" fill="#000"/>
<rect x="185.40" y="318.80" width="4.80" height="4.80" fill="#000"/>
<rect x="181.70" y="321.00" width="4.80" height="4.80" fill="#de1820"/>
<rect x="191.80" y="319.20" width="4.80" height="4.80" fill="#de1820"/>
<rect x="189.10" y="322.90" width="4.80" height="4.80" fill="#000"/>
<rect x="189.10" y="331.70" width="4.80" height="4.80" fill="#000"/>
<path d="M214.15 259.80H219.25L216.70 255.20Z" fill="#000"/>
<path d="M214.15 289.80H219.25L216.70 285.20Z" fill="#000"/>
<path d="M206.75 295.90H211.85L209.30 291.30Z" fill="#000"/>
<path d="M218.35 295.30H223.45L220.90 290.70Z" fill="#000"/>
<path d="M214.15 299.90H219.25L216.70 295.30Z" fill="#000"/>
<path d="M214.15 306.40H219.25L216.70 301.80Z" fill="#000"/>
<path d="M206.75 316.90H211.85L209.30 312.30Z" fill="#000"/>
<path d="M218.35 316.50H223.45L220.90 311.90Z" fill="#000"/>
<path d="M214.15 319.30H219.25L216.70 314.70Z" fill="#000"/>
<path d="M218.35 322.40H223.45L220.90 317.80Z" fill="#000"/>
<path d="M214.15 326.70H219.25L216.70 322.10Z" fill="#000"/>
<circle cx="66.00" cy="510.20" r="2.10" fill="#fff" stroke="#000" stroke-width="1.35"/>
<circle cx="70.10" cy="509.70" r="2.10" fill="#fff" stroke="#000" stroke-width="1.35"/>
<circle cx="61.50" cy="515.60" r="2.10" fill="#fff" stroke="#000" stroke-width="1.35"/>
<circle cx="70.10" cy="516.50" r="2.10" fill="#fff" stroke="#000" stroke-width="1.35"/>
<circle cx="57.40" cy="519.70" r="2.10" fill="#fff" stroke="#000" stroke-width="1.35"/>
<circle cx="65.60" cy="521.50" r="2.10" fill="#fff" stroke="#000" stroke-width="1.35"/>
<circle cx="68.30" cy="524.20" r="2.10" fill="#fff" stroke="#000" stroke-width="1.35"/>
<circle cx="61.50" cy="526.90" r="2.10" fill="#fff" stroke="#000" stroke-width="1.35"/>
<circle cx="65.60" cy="526.00" r="2.10" fill="#fff" stroke="#000" stroke-width="1.35"/>
<circle cx="69.70" cy="526.50" r="2.10" fill="#fff" stroke="#000" stroke-width="1.35"/>
<circle cx="65.60" cy="530.50" r="2.10" fill="#fff" stroke="#000" stroke-width="1.35"/>
<circle cx="57.90" cy="538.20" r="2.10" fill="#fff" stroke="#000" stroke-width="1.35"/>
<circle cx="69.70" cy="537.30" r="2.10" fill="#fff" stroke="#000" stroke-width="1.35"/>
<circle cx="65.60" cy="541.40" r="2.10" fill="#fff" stroke="#000" stroke-width="1.35"/>
<circle cx="65.60" cy="544.60" r="2.10" fill="#fff" stroke="#000" stroke-width="1.35"/>
<circle cx="63.3" cy="546.4" r="2.75" fill="#000"/>
<circle cx="68.3" cy="546.4" r="2.75" fill="#000"/>
<circle cx="61.1" cy="549.1" r="2.75" fill="#000"/>
<circle cx="70.6" cy="549.1" r="2.75" fill="#000"/>
<circle cx="65.6" cy="550.5" r="2.75" fill="#000"/>
<circle cx="65.6" cy="547.5" r="2.75" fill="#000"/>
<circle cx="60.9" cy="549.0" r="1.05" fill="#fff"/>
<circle cx="70.8" cy="549.0" r="1.05" fill="#fff"/>
<circle cx="65.7" cy="550.6" r="1.05" fill="#fff"/>
<rect x="92.05" y="468.55" width="4.70" height="4.70" fill="#fff" stroke="#000" stroke-width="1.51"/>
<rect x="83.65" y="510.35" width="4.70" height="4.70" fill="#fff" stroke="#000" stroke-width="1.51"/>
<rect x="92.05" y="507.85" width="4.70" height="4.70" fill="#fff" stroke="#000" stroke-width="1.51"/>
<rect x="96.15" y="506.15" width="4.70" height="4.70" fill="#fff" stroke="#000" stroke-width="1.51"/>
<rect x="92.05" y="515.35" width="4.70" height="4.70" fill="#fff" stroke="#000" stroke-width="1.51"/>
<rect x="87.85" y="527.15" width="4.70" height="4.70" fill="#fff" stroke="#000" stroke-width="1.51"/>
<rect x="92.85" y="523.75" width="4.70" height="4.70" fill="#fff" stroke="#000" stroke-width="1.51"/>
<rect x="96.15" y="527.95" width="4.70" height="4.70" fill="#fff" stroke="#000" stroke-width="1.51"/>
<rect x="92.05" y="537.95" width="4.70" height="4.70" fill="#fff" stroke="#000" stroke-width="1.51"/>
<rect x="97.05" y="540.45" width="4.70" height="4.70" fill="#fff" stroke="#000" stroke-width="1.51"/>
<rect x="92.05" y="546.35" width="4.70" height="4.70" fill="#fff" stroke="#000" stroke-width="1.51"/>
<path d="M119.62 474.29H124.97L122.30 479.11Z" fill="#000"/>
<path d="M119.62 483.49H124.97L122.30 488.31Z" fill="#000"/>
<path d="M119.62 500.79H124.97L122.30 505.61Z" fill="#000"/>
<path d="M111.73 514.49H117.08L114.40 519.31Z" fill="#000"/>
<path d="M119.62 515.29H124.97L122.30 520.11Z" fill="#000"/>
<path d="M123.53 514.49H128.88L126.20 519.31Z" fill="#000"/>
<path d="M123.53 529.59H128.88L126.20 534.41Z" fill="#000"/>
<path d="M119.62 536.29H124.97L122.30 541.11Z" fill="#000"/>
<path d="M150.80 480.54L154.06 483.80L150.80 487.06L147.54 483.80Z" fill="#000"/>
<path d="M142.70 499.04L145.96 502.30L142.70 505.56L139.44 502.30Z" fill="#000"/>
<path d="M150.80 501.34L154.06 504.60L150.80 507.86L147.54 504.60Z" fill="#000"/>
<path d="M150.80 519.84L154.06 523.10L150.80 526.36L147.54 523.10Z" fill="#000"/>
<path d="M155.40 519.84L158.66 523.10L155.40 526.36L152.14 523.10Z" fill="#000"/>
<path d="M142.70 526.74L145.96 530.00L142.70 533.26L139.44 530.00Z" fill="#000"/>
<path d="M150.80 530.94L154.06 534.20L150.80 537.46L147.54 534.20Z" fill="#000"/>
<path d="M147.30 541.74L150.56 545.00L147.30 548.26L144.04 545.00Z" fill="#000"/>
<path d="M153.10 542.94L156.36 546.20L153.10 549.46L149.84 546.20Z" fill="#000"/>
<path d="M150.80 545.24L154.06 548.50L150.80 551.76L147.54 548.50Z" fill="#000"/>
<path d="M155.40 544.04L158.66 547.30L155.40 550.56L152.14 547.30Z" fill="#000"/>
<circle cx="179.20" cy="450.40" r="2.69" fill="#000"/>
<circle cx="179.20" cy="488.50" r="2.69" fill="#000"/>
<circle cx="183.50" cy="486.80" r="2.69" fill="#000"/>
<circle cx="179.20" cy="501.80" r="2.69" fill="#de1820"/>
<circle cx="183.50" cy="523.50" r="2.69" fill="#000"/>
<circle cx="179.20" cy="523.50" r="2.69" fill="#de1820"/>
<circle cx="171.10" cy="535.80" r="2.69" fill="#000"/>
<circle cx="179.20" cy="540.40" r="2.69" fill="#de1820"/>
<circle cx="175.00" cy="545.00" r="2.69" fill="#000"/>
<circle cx="183.50" cy="546.20" r="2.69" fill="#000"/>
<circle cx="179.20" cy="548.50" r="2.69" fill="#de1820"/>
<rect x="204.88" y="465.68" width="6.24" height="6.24" fill="#000"/>
<rect x="204.88" y="488.78" width="6.24" height="6.24" fill="#000"/>
<rect x="208.78" y="500.38" width="6.24" height="6.24" fill="#000"/>
<rect x="204.88" y="505.68" width="6.24" height="6.24" fill="#000"/>
<rect x="196.08" y="512.58" width="6.24" height="6.24" fill="#de1820"/>
<rect x="204.88" y="515.38" width="6.24" height="6.24" fill="#000"/>
<rect x="203.88" y="523.88" width="6.24" height="6.24" fill="#000"/>
<rect x="200.28" y="523.38" width="6.24" height="6.24" fill="#de1820"/>
<rect x="208.78" y="524.08" width="6.24" height="6.24" fill="#de1820"/>
<rect x="196.08" y="540.28" width="6.24" height="6.24" fill="#000"/>
<rect x="208.78" y="540.28" width="6.24" height="6.24" fill="#000"/>
<rect x="204.18" y="541.18" width="6.24" height="6.24" fill="#de1820"/>
<rect x="204.88" y="549.98" width="6.24" height="6.24" fill="#000"/>
<path d="M237.57 508.26H243.03L240.30 503.34Z" fill="#000"/>
<path d="M233.47 515.16H238.93L236.20 510.24Z" fill="#000"/>
<path d="M228.77 530.16H234.23L231.50 525.24Z" fill="#000"/>
<path d="M237.57 531.26H243.03L240.30 526.34Z" fill="#000"/>
<path d="M233.47 533.66H238.93L236.20 528.74Z" fill="#000"/>
<path d="M233.47 538.26H238.93L236.20 533.34Z" fill="#000"/>
<circle cx="336.40" cy="42.50" r="2.10" fill="#fff" stroke="#000" stroke-width="1.35"/>
<circle cx="344.10" cy="44.20" r="2.10" fill="#fff" stroke="#000" stroke-width="1.35"/>
<circle cx="340.20" cy="48.40" r="2.10" fill="#fff" stroke="#000" stroke-width="1.35"/>
<circle cx="344.10" cy="56.50" r="2.10" fill="#fff" stroke="#000" stroke-width="1.35"/>
<circle cx="332.70" cy="61.50" r="2.10" fill="#fff" stroke="#000" stroke-width="1.35"/>
<circle cx="340.20" cy="61.80" r="2.10" fill="#fff" stroke="#000" stroke-width="1.35"/>
<circle cx="336.40" cy="66.00" r="2.10" fill="#fff" stroke="#000" stroke-width="1.35"/>
<circle cx="344.10" cy="68.20" r="2.10" fill="#fff" stroke="#000" stroke-width="1.35"/>
<circle cx="340.20" cy="71.00" r="2.10" fill="#fff" stroke="#000" stroke-width="1.35"/>
<circle cx="332.70" cy="76.10" r="2.10" fill="#fff" stroke="#000" stroke-width="1.35"/>
<circle cx="336.40" cy="76.10" r="2.10" fill="#fff" stroke="#000" stroke-width="1.35"/>
<circle cx="344.10" cy="76.10" r="2.10" fill="#fff" stroke="#000" stroke-width="1.35"/>
<circle cx="340.20" cy="78.90" r="2.10" fill="#fff" stroke="#000" stroke-width="1.35"/>
<circle cx="336.40" cy="82.80" r="2.10" fill="#fff" stroke="#000" stroke-width="1.35"/>
<circle cx="342.80" cy="81.60" r="2.10" fill="#fff" stroke="#000" stroke-width="1.35"/>
<circle cx="340.20" cy="85.30" r="2.10" fill="#fff" stroke="#000" stroke-width="1.35"/>
<circle cx="332.70" cy="90.30" r="2.10" fill="#fff" stroke="#000" stroke-width="1.35"/>
<circle cx="340.20" cy="92.00" r="2.10" fill="#fff" stroke="#000" stroke-width="1.35"/>
<circle cx="336.40" cy="94.50" r="2.10" fill="#fff" stroke="#000" stroke-width="1.35"/>
<circle cx="344.10" cy="97.80" r="2.10" fill="#fff" stroke="#000" stroke-width="1.35"/>
<circle cx="340.20" cy="99.50" r="2.10" fill="#fff" stroke="#000" stroke-width="1.35"/>
<circle cx="332.70" cy="102.90" r="2.10" fill="#fff" stroke="#000" stroke-width="1.35"/>
<circle cx="344.10" cy="102.90" r="2.10" fill="#fff" stroke="#000" stroke-width="1.35"/>
<circle cx="340.20" cy="107.10" r="2.10" fill="#fff" stroke="#000" stroke-width="1.35"/>
<circle cx="336.40" cy="111.30" r="2.10" fill="#fff" stroke="#000" stroke-width="1.35"/>
<circle cx="342.80" cy="111.30" r="2.10" fill="#fff" stroke="#000" stroke-width="1.35"/>
<circle cx="340.20" cy="113.80" r="2.10" fill="#fff" stroke="#000" stroke-width="1.35"/>
<circle cx="344.10" cy="114.60" r="2.10" fill="#fff" stroke="#000" stroke-width="1.35"/>
<circle cx="340.20" cy="117.50" r="2.10" fill="#fff" stroke="#000" stroke-width="1.35"/>
<rect x="364.70" y="68.60" width="4.20" height="4.20" fill="#fff" stroke="#000" stroke-width="1.35"/>
<rect x="368.70" y="81.10" width="4.20" height="4.20" fill="#fff" stroke="#000" stroke-width="1.35"/>
<rect x="364.70" y="84.90" width="4.20" height="4.20" fill="#fff" stroke="#000" stroke-width="1.35"/>
<rect x="357.20" y="92.00" width="4.20" height="4.20" fill="#fff" stroke="#000" stroke-width="1.35"/>
<rect x="364.70" y="93.00" width="4.20" height="4.20" fill="#fff" stroke="#000" stroke-width="1.35"/>
<rect x="361.20" y="97.80" width="4.20" height="4.20" fill="#fff" stroke="#000" stroke-width="1.35"/>
<rect x="368.70" y="101.20" width="4.20" height="4.20" fill="#fff" stroke="#000" stroke-width="1.35"/>
<rect x="364.70" y="102.80" width="4.20" height="4.20" fill="#fff" stroke="#000" stroke-width="1.35"/>
<rect x="357.20" y="112.90" width="4.20" height="4.20" fill="#fff" stroke="#000" stroke-width="1.35"/>
<rect x="361.20" y="111.60" width="4.20" height="4.20" fill="#fff" stroke="#000" stroke-width="1.35"/>
<rect x="366.20" y="110.40" width="4.20" height="4.20" fill="#fff" stroke="#000" stroke-width="1.35"/>
<rect x="368.70" y="113.10" width="4.20" height="4.20" fill="#fff" stroke="#000" stroke-width="1.35"/>
<rect x="361.20" y="117.90" width="4.20" height="4.20" fill="#fff" stroke="#000" stroke-width="1.35"/>
<rect x="364.70" y="119.40" width="4.20" height="4.20" fill="#fff" stroke="#000" stroke-width="1.35"/>
<rect x="368.70" y="120.00" width="4.20" height="4.20" fill="#fff" stroke="#000" stroke-width="1.35"/>
<rect x="364.70" y="115.60" width="4.20" height="4.20" fill="#fff" stroke="#000" stroke-width="1.35"/>
<path d="M390.90 89.75H395.90L393.40 94.25Z" fill="#000"/>
<path d="M390.90 105.45H395.90L393.40 109.95Z" fill="#000"/>
<path d="M383.30 118.35H388.30L385.80 122.85Z" fill="#000"/>
<path d="M387.40 116.45H392.40L389.90 120.95Z" fill="#000"/>
<path d="M391.20 114.75H396.20L393.70 119.25Z" fill="#000"/>
<path d="M395.30 116.95H400.30L397.80 121.45Z" fill="#000"/>
<path d="M391.00 121.25H396.00L393.50 125.75Z" fill="#000"/>
<path d="M390.90 124.25H395.90L393.40 128.75Z" fill="#000"/>
<path d="M387.00 126.25H392.00L389.50 130.75Z" fill="#000"/>
<path d="M391.00 125.75H396.00L393.50 130.25Z" fill="#000"/>
<path d="M395.00 126.25H400.00L397.50 130.75Z" fill="#000"/>
<path d="M389.00 128.25H394.00L391.50 132.75Z" fill="#000"/>
<path d="M393.00 128.25H398.00L395.50 132.75Z" fill="#000"/>
<path d="M420.20 61.25L422.65 63.70L420.20 66.15L417.75 63.70Z" fill="#000"/>
<path d="M412.50 95.85L414.95 98.30L412.50 100.75L410.05 98.30Z" fill="#000"/>
<path d="M420.20 98.05L422.65 100.50L420.20 102.95L417.75 100.50Z" fill="#000"/>
<path d="M420.20 107.55L422.65 110.00L420.20 112.45L417.75 110.00Z" fill="#000"/>
<path d="M412.50 119.15L414.95 121.60L412.50 124.05L410.05 121.60Z" fill="#000"/>
<path d="M420.20 121.95L422.65 124.40L420.20 126.85L417.75 124.40Z" fill="#000"/>
<path d="M416.60 126.55L419.05 129.00L416.60 131.45L414.15 129.00Z" fill="#000"/>
<path d="M420.20 127.45L422.65 129.90L420.20 132.35L417.75 129.90Z" fill="#000"/>
<path d="M423.80 127.05L426.25 129.50L423.80 131.95L421.35 129.50Z" fill="#000"/>
<path d="M418.20 128.85L420.65 131.30L418.20 133.75L415.75 131.30Z" fill="#000"/>
<path d="M422.00 128.85L424.45 131.30L422.00 133.75L419.55 131.30Z" fill="#000"/>
<path d="M420.20 125.15L422.65 127.60L420.20 130.05L417.75 127.60Z" fill="#000"/>
<circle cx="446.90" cy="41.20" r="2.40" fill="#000"/>
<circle cx="447.20" cy="101.20" r="2.40" fill="#de1820"/>
<circle cx="443.10" cy="111.00" r="2.40" fill="#000"/>
<circle cx="447.20" cy="111.00" r="2.40" fill="#000"/>
<circle cx="451.20" cy="111.00" r="2.40" fill="#000"/>
<circle cx="443.10" cy="128.60" r="2.40" fill="#000"/>
<circle cx="447.20" cy="130.00" r="2.40" fill="#000"/>
<circle cx="450.40" cy="128.60" r="2.40" fill="#000"/>
<circle cx="444.50" cy="131.00" r="2.40" fill="#000"/>
<circle cx="449.50" cy="131.00" r="2.40" fill="#000"/>
<circle cx="454.50" cy="125.40" r="2.40" fill="#000"/>
<circle cx="439.00" cy="124.10" r="2.40" fill="#de1820"/>
<circle cx="443.10" cy="124.60" r="2.40" fill="#de1820"/>
<circle cx="447.20" cy="124.60" r="2.40" fill="#de1820"/>
<circle cx="451.20" cy="125.00" r="2.40" fill="#de1820"/>
<circle cx="441.00" cy="124.40" r="2.40" fill="#de1820"/>
<circle cx="449.20" cy="124.80" r="2.40" fill="#de1820"/>
<rect x="471.70" y="70.70" width="4.80" height="4.80" fill="#000"/>
<rect x="463.90" y="104.70" width="4.80" height="4.80" fill="#de1820"/>
<rect x="471.40" y="104.70" width="4.80" height="4.80" fill="#de1820"/>
<rect x="467.60" y="112.40" width="4.80" height="4.80" fill="#000"/>
<rect x="475.00" y="115.60" width="4.80" height="4.80" fill="#000"/>
<rect x="470.90" y="118.90" width="4.80" height="4.80" fill="#000"/>
<rect x="464.40" y="122.20" width="4.80" height="4.80" fill="#000"/>
<rect x="476.60" y="121.30" width="4.80" height="4.80" fill="#000"/>
<rect x="466.80" y="126.20" width="4.80" height="4.80" fill="#000"/>
<rect x="473.40" y="127.10" width="4.80" height="4.80" fill="#000"/>
<rect x="478.60" y="123.60" width="4.80" height="4.80" fill="#000"/>
<rect x="467.60" y="119.10" width="4.80" height="4.80" fill="#000"/>
<rect x="463.60" y="127.10" width="4.80" height="4.80" fill="#000"/>
<rect x="470.10" y="124.60" width="4.80" height="4.80" fill="#de1820"/>
<path d="M498.05 98.60H503.15L500.60 94.00Z" fill="#000"/>
<path d="M501.85 110.50H506.95L504.40 105.90Z" fill="#000"/>
<path d="M498.05 114.30H503.15L500.60 109.70Z" fill="#000"/>
<path d="M499.65 121.90H504.75L502.20 117.30Z" fill="#000"/>
<path d="M494.45 126.80H499.55L497.00 122.20Z" fill="#000"/>
<path d="M498.45 126.30H503.55L501.00 121.70Z" fill="#000"/>
<path d="M502.45 127.30H507.55L505.00 122.70Z" fill="#000"/>
<path d="M496.45 130.30H501.55L499.00 125.70Z" fill="#000"/>
<path d="M500.45 130.80H505.55L503.00 126.20Z" fill="#000"/>
<path d="M498.45 133.30H503.55L501.00 128.70Z" fill="#000"/>
<path d="M493.45 131.80H498.55L496.00 127.20Z" fill="#000"/>
<path d="M491.05 121.90H496.15L493.60 117.30Z" fill="#de1820"/>
<circle cx="339.20" cy="248.80" r="2.10" fill="#fff" stroke="#000" stroke-width="1.35"/>
<circle cx="339.20" cy="262.50" r="2.10" fill="#fff" stroke="#000" stroke-width="1.35"/>
<circle cx="342.70" cy="268.50" r="2.10" fill="#fff" stroke="#000" stroke-width="1.35"/>
<circle cx="339.20" cy="274.80" r="2.10" fill="#fff" stroke="#000" stroke-width="1.35"/>
<circle cx="332.70" cy="283.10" r="2.10" fill="#fff" stroke="#000" stroke-width="1.35"/>
<circle cx="339.20" cy="285.40" r="2.10" fill="#fff" stroke="#000" stroke-width="1.35"/>
<circle cx="342.70" cy="282.60" r="2.10" fill="#fff" stroke="#000" stroke-width="1.35"/>
<circle cx="339.20" cy="292.40" r="2.10" fill="#fff" stroke="#000" stroke-width="1.35"/>
<circle cx="339.20" cy="301.90" r="2.10" fill="#fff" stroke="#000" stroke-width="1.35"/>
<circle cx="335.70" cy="320.00" r="2.10" fill="#fff" stroke="#000" stroke-width="1.35"/>
<circle cx="342.70" cy="322.30" r="2.10" fill="#fff" stroke="#000" stroke-width="1.35"/>
<circle cx="339.20" cy="326.20" r="2.10" fill="#fff" stroke="#000" stroke-width="1.35"/>
<rect x="360.80" y="247.00" width="4.20" height="4.20" fill="#fff" stroke="#000" stroke-width="1.35"/>
<rect x="360.80" y="260.40" width="4.20" height="4.20" fill="#fff" stroke="#000" stroke-width="1.35"/>
<rect x="364.70" y="266.40" width="4.20" height="4.20" fill="#fff" stroke="#000" stroke-width="1.35"/>
<rect x="360.80" y="272.70" width="4.20" height="4.20" fill="#fff" stroke="#000" stroke-width="1.35"/>
<rect x="354.10" y="281.00" width="4.20" height="4.20" fill="#fff" stroke="#000" stroke-width="1.35"/>
<rect x="360.80" y="282.70" width="4.20" height="4.20" fill="#fff" stroke="#000" stroke-width="1.35"/>
<rect x="364.70" y="280.50" width="4.20" height="4.20" fill="#fff" stroke="#000" stroke-width="1.35"/>
<rect x="360.80" y="290.30" width="4.20" height="4.20" fill="#fff" stroke="#000" stroke-width="1.35"/>
<rect x="360.80" y="299.80" width="4.20" height="4.20" fill="#fff" stroke="#000" stroke-width="1.35"/>
<rect x="357.70" y="317.90" width="4.20" height="4.20" fill="#fff" stroke="#000" stroke-width="1.35"/>
<rect x="364.70" y="320.20" width="4.20" height="4.20" fill="#fff" stroke="#000" stroke-width="1.35"/>
<rect x="360.80" y="324.10" width="4.20" height="4.20" fill="#fff" stroke="#000" stroke-width="1.35"/>
<path d="M384.20 274.65H389.20L386.70 279.15Z" fill="#000"/>
<path d="M387.70 294.05H392.70L390.20 298.55Z" fill="#000"/>
<path d="M384.20 299.35H389.20L386.70 303.85Z" fill="#000"/>
<path d="M378.00 308.95H383.00L380.50 313.45Z" fill="#000"/>
<path d="M384.20 310.75H389.20L386.70 315.25Z" fill="#000"/>
<path d="M381.50 318.65H386.50L384.00 323.15Z" fill="#000"/>
<path d="M384.20 322.15H389.20L386.70 326.65Z" fill="#000"/>
<path d="M387.70 323.05H392.70L390.20 327.55Z" fill="#000"/>
<path d="M378.00 326.55H383.00L380.50 331.05Z" fill="#000"/>
<path d="M384.20 328.35H389.20L386.70 332.85Z" fill="#000"/>
<path d="M384.20 336.25H389.20L386.70 340.75Z" fill="#000"/>
<path d="M410.70 314.15L413.15 316.60L410.70 319.05L408.25 316.60Z" fill="#000"/>
<path d="M404.20 324.15L406.65 326.60L404.20 329.05L401.75 326.60Z" fill="#000"/>
<path d="M410.70 326.35L413.15 328.80L410.70 331.25L408.25 328.80Z" fill="#000"/>
<path d="M411.40 330.75L413.85 333.20L411.40 335.65L408.95 333.20Z" fill="#000"/>
<path d="M407.50 335.05L409.95 337.50L407.50 339.95L405.05 337.50Z" fill="#000"/>
<path d="M411.20 337.05L413.65 339.50L411.20 341.95L408.75 339.50Z" fill="#000"/>
<path d="M415.00 335.05L417.45 337.50L415.00 339.95L412.55 337.50Z" fill="#000"/>
<path d="M409.30 333.55L411.75 336.00L409.30 338.45L406.85 336.00Z" fill="#000"/>
<path d="M413.00 333.55L415.45 336.00L413.00 338.45L410.55 336.00Z" fill="#000"/>
<path d="M411.20 335.35L413.65 337.80L411.20 340.25L408.75 337.80Z" fill="#000"/>
<circle cx="434.60" cy="309.40" r="2.40" fill="#de1820"/>
<circle cx="438.20" cy="319.40" r="2.40" fill="#000"/>
<circle cx="434.40" cy="321.50" r="2.40" fill="#000"/>
<circle cx="434.80" cy="246.50" r="2.40" fill="#000"/>
<circle cx="431.00" cy="337.50" r="2.40" fill="#000"/>
<circle cx="438.50" cy="337.50" r="2.40" fill="#000"/>
<circle cx="434.80" cy="340.00" r="2.40" fill="#000"/>
<circle cx="434.80" cy="333.90" r="2.40" fill="#de1820"/>
<circle cx="434.80" cy="337.00" r="2.40" fill="#de1820"/>
<rect x="456.20" y="276.40" width="4.80" height="4.80" fill="#000"/>
<rect x="453.80" y="313.10" width="4.80" height="4.80" fill="#de1820"/>
<rect x="459.60" y="312.60" width="4.80" height="4.80" fill="#de1820"/>
<rect x="449.60" y="320.90" width="4.80" height="4.80" fill="#000"/>
<rect x="456.50" y="323.90" width="4.80" height="4.80" fill="#000"/>
<rect x="453.20" y="334.90" width="4.80" height="4.80" fill="#000"/>
<rect x="459.80" y="334.90" width="4.80" height="4.80" fill="#000"/>
<rect x="456.60" y="337.60" width="4.80" height="4.80" fill="#000"/>
<rect x="456.50" y="330.60" width="4.80" height="4.80" fill="#de1820"/>
<rect x="456.50" y="334.10" width="4.80" height="4.80" fill="#de1820"/>
<path d="M480.25 306.90H485.35L482.80 302.30Z" fill="#000"/>
<path d="M480.25 323.10H485.35L482.80 318.50Z" fill="#000"/>
<path d="M477.25 334.20H482.35L479.80 329.60Z" fill="#000"/>
<path d="M482.35 331.20H487.45L484.90 326.60Z" fill="#000"/>
<path d="M480.25 337.20H485.35L482.80 332.60Z" fill="#000"/>
<circle cx="332.10" cy="468.10" r="2.10" fill="#fff" stroke="#000" stroke-width="1.35"/>
<circle cx="339.10" cy="469.20" r="2.10" fill="#fff" stroke="#000" stroke-width="1.35"/>
<circle cx="343.00" cy="478.40" r="2.10" fill="#fff" stroke="#000" stroke-width="1.35"/>
<circle cx="339.50" cy="482.30" r="2.10" fill="#fff" stroke="#000" stroke-width="1.35"/>
<circle cx="339.10" cy="492.80" r="2.10" fill="#fff" stroke="#000" stroke-width="1.35"/>
<circle cx="335.80" cy="503.00" r="2.10" fill="#fff" stroke="#000" stroke-width="1.35"/>
<circle cx="339.10" cy="505.20" r="2.10" fill="#fff" stroke="#000" stroke-width="1.35"/>
<circle cx="342.30" cy="506.70" r="2.10" fill="#fff" stroke="#000" stroke-width="1.35"/>
<circle cx="332.10" cy="511.10" r="2.10" fill="#fff" stroke="#000" stroke-width="1.35"/>
<circle cx="339.10" cy="516.10" r="2.10" fill="#fff" stroke="#000" stroke-width="1.35"/>
<circle cx="343.00" cy="525.50" r="2.10" fill="#fff" stroke="#000" stroke-width="1.35"/>
<circle cx="339.10" cy="529.80" r="2.10" fill="#fff" stroke="#000" stroke-width="1.35"/>
<circle cx="335.80" cy="532.50" r="2.10" fill="#fff" stroke="#000" stroke-width="1.35"/>
<circle cx="332.10" cy="535.70" r="2.10" fill="#fff" stroke="#000" stroke-width="1.35"/>
<circle cx="336.90" cy="534.60" r="2.10" fill="#fff" stroke="#000" stroke-width="1.35"/>
<circle cx="342.30" cy="534.20" r="2.10" fill="#fff" stroke="#000" stroke-width="1.35"/>
<circle cx="339.50" cy="540.10" r="2.10" fill="#fff" stroke="#000" stroke-width="1.35"/>
<circle cx="342.30" cy="544.40" r="2.10" fill="#fff" stroke="#000" stroke-width="1.35"/>
<circle cx="339.10" cy="547.70" r="2.10" fill="#fff" stroke="#000" stroke-width="1.35"/>
<rect x="362.00" y="439.90" width="4.20" height="4.20" fill="#fff" stroke="#000" stroke-width="1.35"/>
<rect x="362.00" y="505.30" width="4.20" height="4.20" fill="#fff" stroke="#000" stroke-width="1.35"/>
<rect x="358.30" y="511.80" width="4.20" height="4.20" fill="#fff" stroke="#000" stroke-width="1.35"/>
<rect x="365.30" y="512.90" width="4.20" height="4.20" fill="#fff" stroke="#000" stroke-width="1.35"/>
<rect x="358.30" y="523.40" width="4.20" height="4.20" fill="#fff" stroke="#000" stroke-width="1.35"/>
<rect x="364.20" y="523.80" width="4.20" height="4.20" fill="#fff" stroke="#000" stroke-width="1.35"/>
<rect x="354.40" y="529.30" width="4.20" height="4.20" fill="#fff" stroke="#000" stroke-width="1.35"/>
<rect x="358.80" y="525.60" width="4.20" height="4.20" fill="#fff" stroke="#000" stroke-width="1.35"/>
<rect x="366.40" y="526.40" width="4.20" height="4.20" fill="#fff" stroke="#000" stroke-width="1.35"/>
<rect x="362.00" y="530.40" width="4.20" height="4.20" fill="#fff" stroke="#000" stroke-width="1.35"/>
<rect x="362.00" y="547.80" width="4.20" height="4.20" fill="#fff" stroke="#000" stroke-width="1.35"/>
<path d="M386.70 491.45H391.70L389.20 495.95Z" fill="#000"/>
<path d="M386.70 507.95H391.70L389.20 512.45Z" fill="#000"/>
<path d="M386.70 518.85H391.70L389.20 523.35Z" fill="#000"/>
<path d="M386.70 531.95H391.70L389.20 536.45Z" fill="#000"/>
<path d="M386.70 540.65H391.70L389.20 545.15Z" fill="#000"/>
<path d="M382.80 545.45H387.80L385.30 549.95Z" fill="#000"/>
<path d="M390.00 547.65H395.00L392.50 552.15Z" fill="#000"/>
<path d="M414.70 452.95L417.15 455.40L414.70 457.85L412.25 455.40Z" fill="#000"/>
<path d="M414.50 532.55L416.95 535.00L414.50 537.45L412.05 535.00Z" fill="#000"/>
<path d="M407.70 541.25L410.15 543.70L407.70 546.15L405.25 543.70Z" fill="#000"/>
<path d="M411.90 540.15L414.35 542.60L411.90 545.05L409.45 542.60Z" fill="#000"/>
<path d="M416.20 541.25L418.65 543.70L416.20 546.15L413.75 543.70Z" fill="#000"/>
<path d="M420.40 542.25L422.85 544.70L420.40 547.15L417.95 544.70Z" fill="#000"/>
<path d="M410.90 549.65L413.35 552.10L410.90 554.55L408.45 552.10Z" fill="#000"/>
<path d="M414.70 549.65L417.15 552.10L414.70 554.55L412.25 552.10Z" fill="#000"/>
<path d="M418.30 549.65L420.75 552.10L418.30 554.55L415.85 552.10Z" fill="#000"/>
<path d="M414.00 538.05L416.45 540.50L414.00 542.95L411.55 540.50Z" fill="#000"/>
<path d="M410.00 543.55L412.45 546.00L410.00 548.45L407.55 546.00Z" fill="#000"/>
<path d="M418.00 543.55L420.45 546.00L418.00 548.45L415.55 546.00Z" fill="#000"/>
<path d="M414.00 544.55L416.45 547.00L414.00 549.45L411.55 547.00Z" fill="#000"/>
<circle cx="439.40" cy="476.60" r="2.40" fill="#000"/>
<circle cx="443.70" cy="507.70" r="2.40" fill="#000"/>
<circle cx="439.80" cy="510.90" r="2.40" fill="#000"/>
<circle cx="436.00" cy="537.00" r="2.40" fill="#000"/>
<circle cx="444.30" cy="540.00" r="2.40" fill="#000"/>
<circle cx="432.00" cy="542.20" r="2.40" fill="#000"/>
<circle cx="441.20" cy="552.50" r="2.40" fill="#000"/>
<circle cx="444.10" cy="551.10" r="2.40" fill="#000"/>
<circle cx="438.50" cy="549.00" r="2.40" fill="#000"/>
<circle cx="440.20" cy="544.20" r="2.40" fill="#de1820"/>
<circle cx="436.00" cy="546.30" r="2.40" fill="#de1820"/>
<rect x="462.40" y="485.80" width="4.80" height="4.80" fill="#de1820"/>
<rect x="462.40" y="504.20" width="4.80" height="4.80" fill="#000"/>
<rect x="461.40" y="530.60" width="4.80" height="4.80" fill="#000"/>
<rect x="455.60" y="540.60" width="4.80" height="4.80" fill="#000"/>
<rect x="467.60" y="540.60" width="4.80" height="4.80" fill="#000"/>
<rect x="461.40" y="536.60" width="4.80" height="4.80" fill="#000"/>
<rect x="461.40" y="545.10" width="4.80" height="4.80" fill="#000"/>
<rect x="461.40" y="539.10" width="4.80" height="4.80" fill="#de1820"/>
<rect x="458.60" y="541.40" width="4.80" height="4.80" fill="#de1820"/>
<rect x="464.20" y="541.40" width="4.80" height="4.80" fill="#de1820"/>
<rect x="462.40" y="551.20" width="4.80" height="4.80" fill="#000"/>
<path d="M481.35 523.70H486.45L483.90 519.10Z" fill="#000"/>
<path d="M490.15 521.60H495.25L492.70 517.00Z" fill="#000"/>
<path d="M485.95 526.90H491.05L488.50 522.30Z" fill="#000"/>
<path d="M487.25 547.00H492.35L489.80 542.40Z" fill="#000"/>
<path d="M490.85 546.40H495.95L493.40 541.80Z" fill="#000"/>
</svg>
</body></html>
